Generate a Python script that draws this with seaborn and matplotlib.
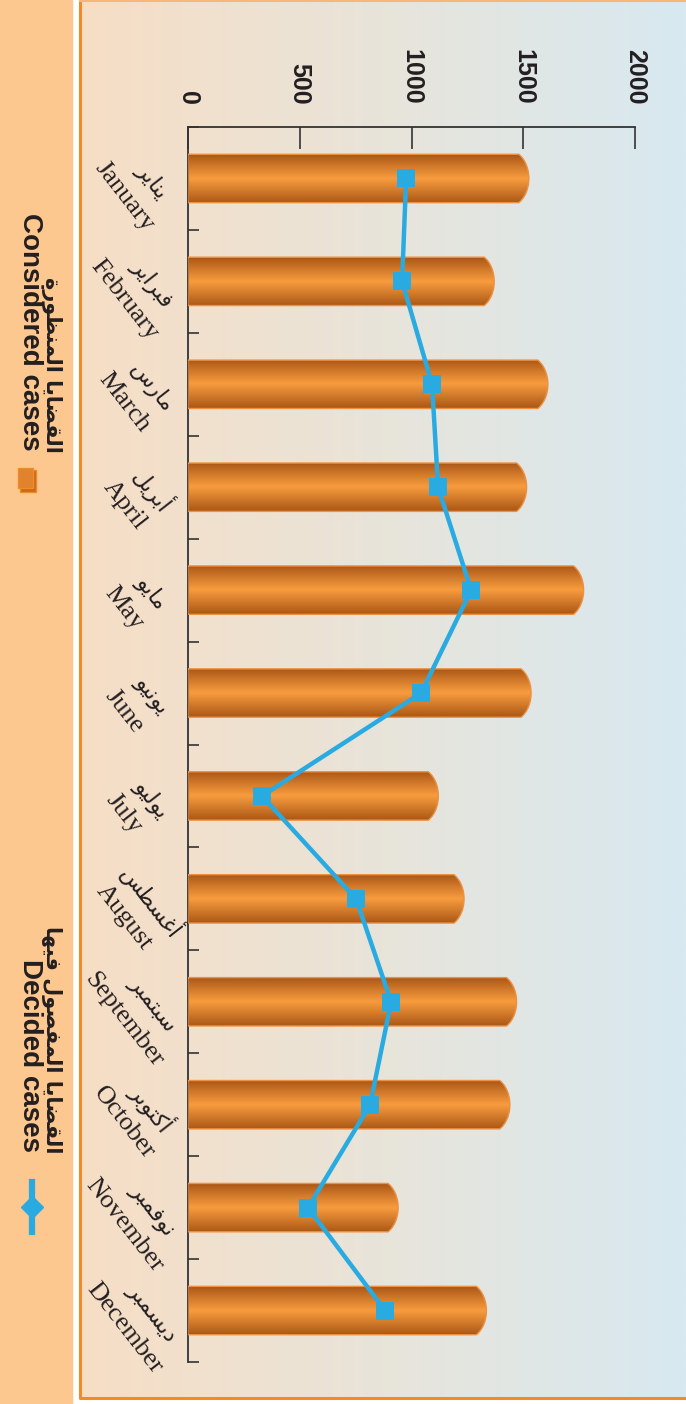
import numpy as np
import matplotlib
matplotlib.use("Agg")
import matplotlib.pyplot as plt
import seaborn as sns
from matplotlib.colors import LinearSegmentedColormap
from matplotlib.patches import PathPatch, Rectangle
from matplotlib.path import Path

months_en = ['January', 'February', 'March', 'April', 'May', 'June', 'July',
             'August', 'September', 'October', 'November', 'December']
months_ar = ['يناير', 'فبراير', 'مارس', 'أبريل', 'مايو', 'يونيو', 'يوليو',
             'أغسطس', 'سبتمبر', 'أكتوبر', 'نوفمبر', 'ديسمبر']
considered = [1525, 1370, 1610, 1515, 1770, 1535, 1120, 1235, 1470, 1440, 940, 1335]
decided = [976, 958, 1092, 1119, 1267, 1043, 331, 752, 909, 815, 537, 882]
x_ticks = [0, 500, 1000, 1500, 2000]
legend_en = ['Considered cases', 'Decided cases']
legend_ar = ['القضايا المنظورة', 'القضايا المفصول فيها']

# matplotlib has no arabic shaping, so map letters to presentation forms
FORMS = {
    'ا': ('\uFE8D', '\uFE8E', None, None), 'أ': ('\uFE83', '\uFE84', None, None),
    'ب': ('\uFE8F', '\uFE90', '\uFE91', '\uFE92'), 'ة': ('\uFE93', '\uFE94', None, None),
    'ت': ('\uFE95', '\uFE96', '\uFE97', '\uFE98'), 'د': ('\uFEA9', '\uFEAA', None, None),
    'ر': ('\uFEAD', '\uFEAE', None, None), 'س': ('\uFEB1', '\uFEB2', '\uFEB3', '\uFEB4'),
    'ص': ('\uFEB9', '\uFEBA', '\uFEBB', '\uFEBC'), 'ض': ('\uFEBD', '\uFEBE', '\uFEBF', '\uFEC0'),
    'ط': ('\uFEC1', '\uFEC2', '\uFEC3', '\uFEC4'), 'ظ': ('\uFEC5', '\uFEC6', '\uFEC7', '\uFEC8'),
    'غ': ('\uFECD', '\uFECE', '\uFECF', '\uFED0'), 'ف': ('\uFED1', '\uFED2', '\uFED3', '\uFED4'),
    'ق': ('\uFED5', '\uFED6', '\uFED7', '\uFED8'), 'ك': ('\uFED9', '\uFEDA', '\uFEDB', '\uFEDC'),
    'ل': ('\uFEDD', '\uFEDE', '\uFEDF', '\uFEE0'), 'م': ('\uFEE1', '\uFEE2', '\uFEE3', '\uFEE4'),
    'ن': ('\uFEE5', '\uFEE6', '\uFEE7', '\uFEE8'), 'ه': ('\uFEE9', '\uFEEA', '\uFEEB', '\uFEEC'),
    'و': ('\uFEED', '\uFEEE', None, None), 'ي': ('\uFEF1', '\uFEF2', '\uFEF3', '\uFEF4'),
}


def shape(text):
    out = []
    for i, c in enumerate(text):
        if c not in FORMS:
            out.append(c)
            continue
        prev = text[i - 1] if i > 0 else ''
        nxt = text[i + 1] if i + 1 < len(text) else ''
        pj = prev in FORMS and FORMS[prev][2] is not None
        nj = nxt in FORMS and FORMS[c][2] is not None
        f = FORMS[c]
        if pj and nj:
            out.append(f[3])
        elif pj:
            out.append(f[1])
        elif nj:
            out.append(f[2])
        else:
            out.append(f[0])
    return ''.join(out[::-1])


W, H = 686, 1404
fig = plt.figure(figsize=(W / 100, H / 100), dpi=100)
fig.patch.set_facecolor('white')

# background layer in pixel coords
bg = fig.add_axes([0, 0, 1, 1])
bg.set_xlim(0, W)
bg.set_ylim(H, 0)
bg.axis('off')
bgcmap = LinearSegmentedColormap.from_list('bg', ['#f7dec5', '#e8e4da', '#d8e9f1'])
bg.imshow(np.linspace(0, 1, 256)[None, :], cmap=bgcmap, aspect='auto',
          extent=(80, W, 1398, 1), zorder=0)
bg.plot([80, 80, W], [1, 1398, 1398], color='#f28a25', lw=2.2, zorder=1)
bg.plot([80, W], [1, 1], color='#f7b77a', lw=1.5, zorder=1)
bg.add_patch(Rectangle((0, 0), 72, H, color='#fdc790', zorder=1))

# legend in the left strip
bg.text(30, 451, legend_en[0], rotation=-90, rotation_mode='anchor', ha='right',
        va='center', fontsize=20, fontweight='bold', family='Liberation Sans', color='#231f20')
bg.text(51, 453, shape(legend_ar[0]), rotation=-90, rotation_mode='anchor', ha='right',
        va='center', fontsize=15, fontweight='bold', family='DejaVu Sans', color='#231f20')
bg.add_patch(Rectangle((20, 470), 16, 22, facecolor='#c8691c', edgecolor='#ee8a2a', lw=1, zorder=2))
bg.add_patch(Rectangle((18, 468), 15, 20, facecolor='#e0822e', edgecolor='#f08c2c', lw=1, zorder=3))
bg.text(30, 1152, legend_en[1], rotation=-90, rotation_mode='anchor', ha='right',
        va='center', fontsize=20, fontweight='bold', family='Liberation Sans', color='#231f20')
bg.text(51, 1153, shape(legend_ar[1]), rotation=-90, rotation_mode='anchor', ha='right',
        va='center', fontsize=15, fontweight='bold', family='DejaVu Sans', color='#231f20')
bg.plot([32, 32], [1182, 1232], color='#29abe2', lw=4.5, zorder=2)
bg.plot([32], [1207], marker='D', markersize=11, color='#29abe2', zorder=3)

# main chart
ax = fig.add_axes([188 / W, 1 - 1362 / H, (635 - 188) / W, (1362 - 127) / H])
ax.set_facecolor('none')
sns.barplot(x=considered, y=months_en, orient='h', ax=ax, width=0.47, color='#e0822e')

barcmap = LinearSegmentedColormap.from_list(
    'cyl', [(0, '#a95616'), (0.25, '#d27a2b'), (0.5, '#f89c3e'), (0.75, '#d27a2b'), (1, '#ab5816')])
grad = np.linspace(0, 1, 128)[:, None]
cap = 45
for p in ax.patches:
    x0, y0, w, h = p.get_x(), p.get_y(), p.get_width(), p.get_height()
    p.set_visible(False)
    a = np.radians(60)
    t = np.linspace(-a, a, 40)
    xs = x0 + w - cap * (1 - np.cos(t)) / (1 - np.cos(a))
    ys = y0 + h / 2 + (h / 2) * np.sin(t) / np.sin(a)
    verts = [(x0, y0)] + list(zip(xs, ys)) + [(x0, y0 + h), (x0, y0)]
    patch = PathPatch(Path(verts), facecolor='none', edgecolor='#ef9040', lw=1.0, zorder=3)
    ax.add_patch(patch)
    im = ax.imshow(grad, cmap=barcmap, aspect='auto', extent=(x0, x0 + w, y0 + h, y0), zorder=2)
    im.set_clip_path(patch)

sns.lineplot(x=decided, y=months_en, orient='y', sort=False, ax=ax, color='#29abe2',
             lw=3.2, marker='s', markersize=13, markeredgewidth=0, zorder=5)

ax.set_xlim(0, 2000)
ax.set_ylim(11.5, -0.5)
ax.xaxis.tick_top()
ax.set_xticks(x_ticks)
ax.set_xticklabels([str(v) for v in x_ticks], rotation=-90, fontsize=18,
                   fontweight='bold', family='Liberation Sans', color='#231f20')
ax.tick_params(axis='x', direction='in', length=16, width=1.2, color='#333333', pad=16)
ax.set_yticks(np.arange(-0.5, 12, 1))
ax.set_yticklabels([])
ax.tick_params(axis='y', direction='in', length=8, width=1.2, color='#333333')
ax.set_xlabel('')
ax.set_ylabel('')
for s in ['right', 'bottom']:
    ax.spines[s].set_visible(False)
for s in ['top', 'left']:
    ax.spines[s].set_color('#333333')
    ax.spines[s].set_linewidth(1.3)
ax.grid(False)

for i, (en, ar) in enumerate(zip(months_en, months_ar)):
    ax.annotate(en, xy=(0, i), xytext=(-46, -13), textcoords='offset points',
                rotation=-52, ha='center', va='center', rotation_mode='anchor',
                fontsize=19, family='Liberation Serif', color='#231f20', annotation_clip=False)
    ax.annotate(shape(ar), xy=(0, i), xytext=(-26, -2), textcoords='offset points',
                rotation=-52, ha='center', va='center', rotation_mode='anchor',
                fontsize=16, family='DejaVu Sans', color='#231f20', annotation_clip=False)

plt.savefig('out.png', dpi=100)
